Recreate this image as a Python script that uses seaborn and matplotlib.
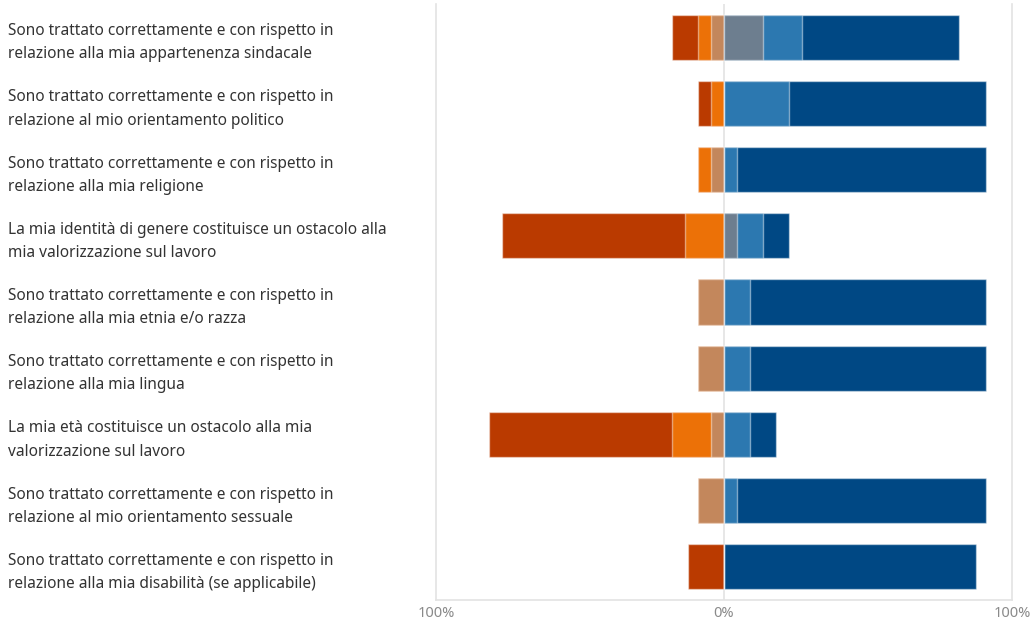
import matplotlib
matplotlib.use("Agg")
import matplotlib.pyplot as plt
import seaborn as sns
import numpy as np
import pandas as pd

categories = [
    "Sono trattato correttamente e con rispetto in\nrelazione alla mia appartenenza sindacale",
    "Sono trattato correttamente e con rispetto in\nrelazione al mio orientamento politico",
    "Sono trattato correttamente e con rispetto in\nrelazione alla mia religione",
    "La mia identità di genere costituisce un ostacolo alla\nmia valorizzazione sul lavoro",
    "Sono trattato correttamente e con rispetto in\nrelazione alla mia etnia e/o razza",
    "Sono trattato correttamente e con rispetto in\nrelazione alla mia lingua",
    "La mia età costituisce un ostacolo alla mia\nvalorizzazione sul lavoro",
    "Sono trattato correttamente e con rispetto in\nrelazione al mio orientamento sessuale",
    "Sono trattato correttamente e con rispetto in\nrelazione alla mia disabilità (se applicabile)",
]

# negative side (percent), from outermost to innermost
neg_strong = [9.1, 4.5, 0.0, 63.6, 0.0, 0.0, 63.6, 0.0, 12.5]
neg_mid    = [4.5, 4.5, 4.5, 13.6, 0.0, 0.0, 13.6, 0.0, 0.0]
neg_light  = [4.5, 0.0, 4.5, 0.0, 9.1, 9.1, 4.5, 9.1, 0.0]
# positive side (percent), from innermost to outermost
pos_light  = [13.6, 0.0, 0.0, 4.5, 0.0, 0.0, 0.0, 0.0, 0.0]
pos_mid    = [13.6, 22.7, 4.5, 9.1, 9.1, 9.1, 9.1, 4.5, 0.0]
pos_strong = [54.5, 68.2, 86.4, 9.1, 81.8, 81.8, 9.1, 86.4, 87.5]

tick_values = [-100, 0, 100]
tick_labels = ["100%", "0%", "100%"]

col_neg_strong = "#BA3A00"
col_neg_mid = "#EC7107"
col_neg_light = "#C3875C"
col_pos_light = "#6D7E8F"
col_pos_mid = "#2C78B0"
col_pos_strong = "#004884"

df = pd.DataFrame({
    "cat": categories,
    "ns": neg_strong, "nm": neg_mid, "nl": neg_light,
    "pl": pos_light, "pm": pos_mid, "ps": pos_strong,
})
df["neg3"] = -(df["ns"] + df["nm"] + df["nl"])
df["neg2"] = -(df["nm"] + df["nl"])
df["neg1"] = -(df["nl"])
df["pos3"] = df["pl"] + df["pm"] + df["ps"]
df["pos2"] = df["pl"] + df["pm"]
df["pos1"] = df["pl"]

sns.set_theme(style="white")
plt.rcParams["font.family"] = ["Noto Sans", "DejaVu Sans"]

fig = plt.figure(figsize=(10.33, 6.25), dpi=100)
ax = fig.add_axes([436 / 1033, 1 - 600 / 625, (1012 - 436) / 1033, 596 / 625])

edge = (1, 1, 1, 0.45)
layers = [
    ("neg3", col_neg_strong), ("neg2", col_neg_mid), ("neg1", col_neg_light),
    ("pos3", col_pos_strong), ("pos2", col_pos_mid), ("pos1", col_pos_light),
]
for key, col in layers:
    sns.barplot(data=df, x=key, y="cat", orient="h", color=col, width=0.68,
                saturation=1, edgecolor=edge, linewidth=1, ax=ax, zorder=3)

ax.axvline(0, color="#E3E3E3", linewidth=1.2, zorder=1)
ax.set_xlim(-100, 100)
ax.set_ylim(8.5, -0.5)
ax.set_xticks(tick_values)
ax.set_xticklabels(tick_labels)
ax.set_xlabel("")
ax.set_ylabel("")

for side in ["left", "right", "bottom"]:
    ax.spines[side].set_visible(True)
    ax.spines[side].set_color("#E3E3E3")
    ax.spines[side].set_linewidth(1.2)
ax.spines["top"].set_visible(False)

ax.tick_params(axis="x", length=0, pad=4, labelsize=10.5, labelcolor="#8A8A8A")
pad_pts = (436 - 8) * 72 / 100
ax.tick_params(axis="y", length=0, pad=pad_pts, labelsize=11.1, labelcolor="#333333")
for lab in ax.get_yticklabels():
    lab.set_horizontalalignment("left")
    lab.set_linespacing(1.6)

fig.savefig("out.png", dpi=100)
